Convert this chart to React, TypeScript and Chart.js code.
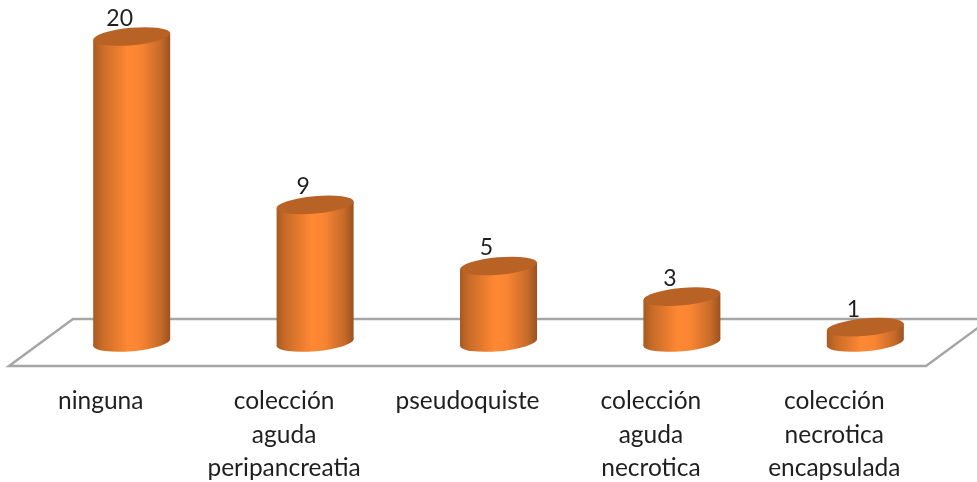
import { useEffect, useRef } from "react";
import { Chart, registerables } from "chart.js";

Chart.register(...registerables);

const categories = [
  "ninguna",
  ["colección", "aguda", "peripancreatia"],
  "pseudoquiste",
  ["colección", "aguda", "necrotica"],
  ["colección", "necrotica", "encapsulada"],
];
const values = [20, 9, 5, 3, 1];

const FONT = "Lato, 'Open Sans', sans-serif";
const DEPTH_X = 64;
const DEPTH_Y = 47;
const SEMI_MINOR = 8.7;
const TILT = -0.09;

const cylinders = {
  id: "cylinders",
  beforeDatasetsDraw(chart: any) {
    const { ctx, chartArea: a } = chart;
    ctx.save();
    ctx.beginPath();
    ctx.moveTo(a.left, a.bottom);
    ctx.lineTo(a.right, a.bottom);
    ctx.lineTo(a.right + DEPTH_X, a.bottom - DEPTH_Y);
    ctx.lineTo(a.left + DEPTH_X, a.bottom - DEPTH_Y);
    ctx.closePath();
    ctx.strokeStyle = "#a6a6a6";
    ctx.lineWidth = 2.5;
    ctx.lineJoin = "miter";
    ctx.stroke();
    ctx.restore();
  },
  beforeDatasetDraw(chart: any) {
    const { ctx } = chart;
    const meta = chart.getDatasetMeta(0);
    meta.data.forEach((bar: any, i: number) => {
      const cx = bar.x + DEPTH_X / 2 - 1;
      const top = bar.y - DEPTH_Y / 2;
      const base = bar.base - DEPTH_Y / 2;
      const half = bar.width / 2;
      const dy = half * Math.tan(-TILT);
      const grad = ctx.createLinearGradient(cx - half, 0, cx + half, 0);
      grad.addColorStop(0, "#a85a20");
      grad.addColorStop(0.12, "#c96c28");
      grad.addColorStop(0.45, "#ff8833");
      grad.addColorStop(0.62, "#f98432");
      grad.addColorStop(0.88, "#c56a29");
      grad.addColorStop(1, "#995220");
      ctx.save();
      ctx.fillStyle = grad;
      ctx.beginPath();
      ctx.ellipse(cx, base, half + 0.2, SEMI_MINOR, TILT, 0, Math.PI * 2);
      ctx.fill();
      ctx.beginPath();
      ctx.moveTo(cx - half, top + dy);
      ctx.lineTo(cx + half, top - dy);
      ctx.lineTo(cx + half, base - dy);
      ctx.lineTo(cx - half, base + dy);
      ctx.closePath();
      ctx.fill();
      ctx.fillStyle = "#b86226";
      ctx.beginPath();
      ctx.ellipse(cx, top, half + 0.2, SEMI_MINOR, TILT, 0, Math.PI * 2);
      ctx.fill();
      ctx.fillStyle = "#1f1f1f";
      ctx.font = `23px ${FONT}`;
      ctx.textAlign = "center";
      ctx.textBaseline = "middle";
      ctx.fillText(String(values[i]), cx - 12, top - 18);
      ctx.restore();
    });
    return false;
  },
};

export default function App() {
  const ref = useRef<HTMLCanvasElement>(null);
  useEffect(() => {
    const chart = new Chart(ref.current!, {
      type: "bar",
      data: {
        labels: categories as any,
        datasets: [{ data: values, backgroundColor: "#ff8833", barThickness: 77 }],
      },
      options: {
        animation: false,
        responsive: false,
        layout: { padding: { left: 9, right: 51, top: 60, bottom: 0 } },
        plugins: { legend: { display: false }, tooltip: { enabled: false } },
        scales: {
          y: { display: false, min: 0, max: 20 },
          x: {
            afterFit(scale: any) {
              scale.height = 116;
            },
            grid: { display: false, drawTicks: false },
            border: { display: false },
            ticks: {
              autoSkip: false,
              maxRotation: 0,
              minRotation: 0,
              padding: 19,
              color: "#1f1f1f",
              font: { family: FONT, size: 24.5, lineHeight: 1.35 },
            },
          },
        },
      },
      plugins: [cylinders],
    } as any);
    return () => chart.destroy();
  }, []);
  return (
    <canvas
      ref={ref}
      width={977}
      height={482}
      style={{ position: "absolute", left: 0, top: 0, display: "block", background: "#ffffff" }}
    />
  );
}
